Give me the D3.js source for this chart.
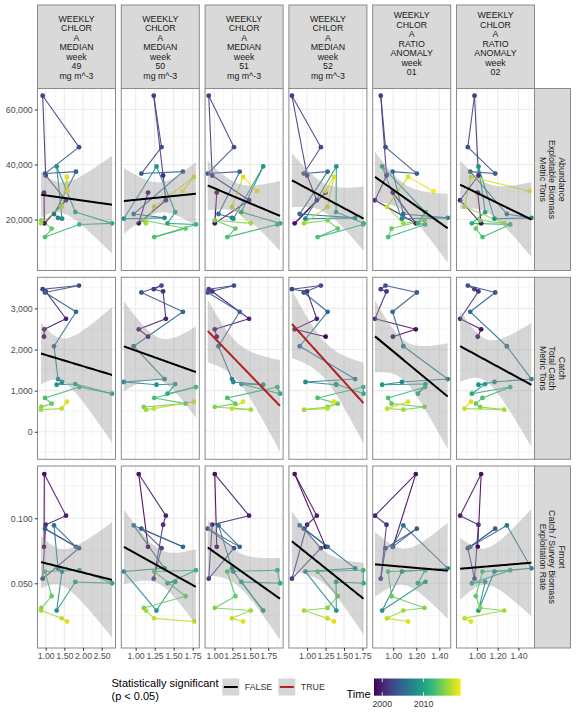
<!DOCTYPE html>
<html><head><meta charset="utf-8">
<script src="https://cdn.jsdelivr.net/npm/d3@7"></script>
<style>body{margin:0;background:#fff} text{font-family:"Liberation Sans",Arial,sans-serif}</style>
</head><body><svg id="c" width="576" height="720"></svg>
<script>
// ---------------- data ----------------
const years = [1998,1999,2000,2001,2002,2003,2004,2005,2006,2007,2008,2009,2010,2011,2012,2013,2014,2015,2016,2017,2018,2019];
const abundance = [29800,18600,27000,36000,65000,46300,36700,37400,22000,20600,20300,39300,22700,18600,18200,13600,16700,19700,18600,24600,35500,30300];
const totalCatch = [2313,2492,2748,3413,3467,3556,3387,2918,2080,1282,1210,1143,1160,926,1088,822,684,603,538,563,732,null];
const fmort = [0.078,0.134,0.102,0.095,0.0535,0.077,0.092,0.078,0.0945,0.0615,0.059,0.029,0.051,0.050,0.060,0.059,0.040,0.031,0.029,0.023,0.0206,null];
const chl49 = [0.954,0.963,1.544,0.999,0.919,1.893,0.981,1.812,1.223,1.330,1.437,1.294,1.794,2.777,1.902,0.981,1.160,0.883,0.874,1.428,1.571,1.589];
const chl50 = [1.163,1.040,1.397,1.361,1.238,1.340,1.075,1.622,0.974,1.380,0.845,1.274,1.520,1.419,1.792,1.245,1.657,1.106,1.136,1.242,1.767,1.618];
const chl51 = [1.032,1.004,1.483,0.968,0.920,1.272,0.906,1.352,1.056,1.244,1.263,1.680,1.376,1.915,1.877,1.179,1.292,1.004,1.507,1.244,1.399,1.596];
const chl52 = [1.251,0.832,1.132,1.000,0.795,1.187,0.955,1.278,0.900,1.651,0.978,1.396,1.392,1.764,1.760,1.142,1.415,1.278,0.959,1.276,1.364,1.248];
const ratio01 = [0.997,1.196,0.842,0.942,0.892,0.933,1.205,0.995,1.088,1.473,1.076,0.904,1.280,1.214,1.277,0.956,0.986,1.271,1.088,0.947,1.129,1.350];
const ratio02 = [1.008,1.041,0.839,1.015,0.977,0.913,1.176,0.936,1.288,1.524,1.169,1.015,1.080,0.952,1.320,1.054,0.990,1.032,1.263,0.881,0.942,1.506];
const significant = [
  [false,false,false,false,false,false],
  [false,false,true,true,false,false],
  [false,false,false,false,false,false]];
const colLabels = [
  ["WEEKLY","CHLOR","A","MEDIAN","week","49","mg m^-3"],
  ["WEEKLY","CHLOR","A","MEDIAN","week","50","mg m^-3"],
  ["WEEKLY","CHLOR","A","MEDIAN","week","51","mg m^-3"],
  ["WEEKLY","CHLOR","A","MEDIAN","week","52","mg m^-3"],
  ["WEEKLY","CHLOR","A","RATIO","ANOMALY","week","01"],
  ["WEEKLY","CHLOR","A","RATIO","ANOMALY","week","02"]];
const rowLabels = [
  ["Abundance","Exploitable Biomass","Metric Tons"],
  ["Catch","Total Catch","Metric Tons"],
  ["Fmort","Catch / Survey Biomass","Exploitation Rate"]];
const xTicks = [[1,1.5,2,2.5],[1,1.25,1.5,1.75],[1,1.25,1.5,1.75],[1,1.25,1.5,1.75],[1,1.2,1.4],[1,1.2,1.4]];
const yTicks = [[20000,40000,60000],[0,1000,2000,3000],[0.05,0.1]];
const legendLabels = ["FALSE","TRUE"];
const timeTicks = [2000,2010];

// ---------------- layout / scales settings ----------------
const xVars = [chl49,chl50,chl51,chl52,ratio01,ratio02];
const yVars = [abundance,totalCatch,fmort];
const xDom = [[0.78,2.871],[0.811,1.837],[0.869,1.958],[0.754,1.810],[0.822,1.499],[0.804,1.554]];
const yDom = [[1455,67636],[-670,3757],[0.0002,0.1402]];
const yFmt = [d3.format(","),d3.format(","),d3.format(".3f")];
const PL = 37.5, PSTEP = 83.8, PW = 78;
const PT = [88.5,277.3,466], PH = 182;
const STRIP_TOP = 5;

const svg = d3.select("#c");
const color = d3.scaleSequential(d3.interpolateViridis).domain([1998,2019]);
const tq = {18:2.100922,19:2.093024,20:2.085963};

function minorBreaks(ticks, dom){
  const step = ticks[1]-ticks[0];
  const out=[];
  for(let v=ticks[0]-step/2; v<=ticks[ticks.length-1]+step/2+1e-9; v+=step){
    if(v>=Math.min(...dom) && v<=Math.max(...dom)) out.push(v);
  }
  return out;
}
function fit(xs, ys){
  const n=xs.length, mx=d3.mean(xs), my=d3.mean(ys);
  let sxx=0,sxy=0; for(let i=0;i<n;i++){sxx+=(xs[i]-mx)**2; sxy+=(xs[i]-mx)*(ys[i]-my);}
  const b=sxy/sxx, a=my-b*mx;
  let sse=0; for(let i=0;i<n;i++){sse+=(ys[i]-a-b*xs[i])**2;}
  const s=Math.sqrt(sse/(n-2));
  return {a,b,s,n,mx,sxx,t:tq[n-2]||2.09};
}

for(let r=0;r<3;r++){
  for(let c=0;c<6;c++){
    const left = PL + c*PSTEP, top = PT[r];
    const g = svg.append("g").attr("transform",`translate(${left},${top})`);
    const x = d3.scaleLinear().domain(xDom[c]).range([0,PW]);
    const y = d3.scaleLinear().domain(yDom[r]).range([PH,0]);
    g.append("rect").attr("width",PW).attr("height",PH).attr("fill","#fff");
    minorBreaks(xTicks[c],xDom[c]).forEach(v=>g.append("line").attr("x1",x(v)).attr("x2",x(v)).attr("y1",0).attr("y2",PH).attr("stroke","#f2f2f2").attr("stroke-width",0.8));
    minorBreaks(yTicks[r],yDom[r]).forEach(v=>g.append("line").attr("y1",y(v)).attr("y2",y(v)).attr("x1",0).attr("x2",PW).attr("stroke","#f2f2f2").attr("stroke-width",0.8));
    xTicks[c].forEach(v=>g.append("line").attr("x1",x(v)).attr("x2",x(v)).attr("y1",0).attr("y2",PH).attr("stroke","#ebebeb").attr("stroke-width",1.1));
    yTicks[r].forEach(v=>g.append("line").attr("y1",y(v)).attr("y2",y(v)).attr("x1",0).attr("x2",PW).attr("stroke","#ebebeb").attr("stroke-width",1.1));
    const cid = `clip${r}${c}`;
    g.append("clipPath").attr("id",cid).append("rect").attr("width",PW).attr("height",PH);
    const pg = g.append("g").attr("clip-path",`url(#${cid})`);
    const xs=xVars[c], ys=yVars[r];
    const pts = years.map((yr,i)=>({yr, x:xs[i], y:ys[i]})).filter(d=>d.y!==null && d.x!==null);
    for(let i=0;i<pts.length-1;i++){
      pg.append("line").attr("x1",x(pts[i].x)).attr("y1",y(pts[i].y)).attr("x2",x(pts[i+1].x)).attr("y2",y(pts[i+1].y))
        .attr("stroke",color(pts[i].yr)).attr("stroke-width",1.1).attr("stroke-opacity",0.9);
    }
    pg.selectAll("circle.pt").data(pts).join("circle").attr("cx",d=>x(d.x)).attr("cy",d=>y(d.y)).attr("r",2.4).attr("fill",d=>color(d.yr));
    const f = fit(pts.map(d=>d.x), pts.map(d=>d.y));
    const [x0,x1] = d3.extent(pts,d=>d.x);
    const grid = d3.range(0,81).map(k=>x0+(x1-x0)*k/80);
    const band = grid.map(v=>{const yh=f.a+f.b*v; const se=f.s*Math.sqrt(1/f.n+(v-f.mx)**2/f.sxx); return {v,yh,lo:yh-f.t*se,hi:yh+f.t*se};});
    pg.append("path").datum(band).attr("d",d3.area().x(d=>x(d.v)).y0(d=>y(d.lo)).y1(d=>y(d.hi))).attr("fill","#999999").attr("fill-opacity",0.4);
    pg.append("path").datum(band).attr("d",d3.line().x(d=>x(d.v)).y(d=>y(d.yh))).attr("fill","none")
      .attr("stroke",significant[r][c]?"#B22222":"#000").attr("stroke-width",2);
    g.append("rect").attr("width",PW).attr("height",PH).attr("fill","none").attr("stroke","#8a8a8a").attr("stroke-width",1);
    if(c===0){
      const ax = svg.append("g").attr("transform",`translate(${left},${top})`)
        .call(d3.axisLeft(y).tickValues(yTicks[r]).tickFormat(yFmt[r]).tickSize(2.75).tickPadding(2));
      ax.select(".domain").remove();
      ax.selectAll("line").attr("stroke","#333");
      ax.selectAll("text").attr("fill","#4d4d4d").style("font-size","8.8px").style("font-family","Liberation Sans, Arial, sans-serif");
    }
    if(r===2){
      const ax = svg.append("g").attr("transform",`translate(${left},${top+PH})`)
        .call(d3.axisBottom(x).tickValues(xTicks[c]).tickFormat(d3.format(".2f")).tickSize(2.75).tickPadding(2));
      ax.select(".domain").remove();
      ax.selectAll("line").attr("stroke","#333");
      ax.selectAll("text").attr("fill","#4d4d4d").style("font-size","8.8px").style("font-family","Liberation Sans, Arial, sans-serif");
    }
  }
}
colLabels.forEach((lines,c)=>{
  const left = PL + c*PSTEP;
  svg.append("rect").attr("x",left).attr("y",STRIP_TOP).attr("width",PW).attr("height",PT[0]-STRIP_TOP)
    .attr("fill","#d9d9d9").attr("stroke","#8a8a8a").attr("stroke-width",1);
  const y0 = c<4 ? 18.5 : 15.2;
  lines.forEach((t,i)=>svg.append("text").attr("x",left+PW/2).attr("y",y0+i*9.5).attr("dy","0.35em")
    .attr("text-anchor","middle").attr("fill","#1a1a1a").style("font-size","8.8px").text(t));
});
rowLabels.forEach((lines,r)=>{
  const sx = PL + 5*PSTEP + PW;
  svg.append("rect").attr("x",sx).attr("y",PT[r]).attr("width",36).attr("height",PH)
    .attr("fill","#d9d9d9").attr("stroke","#8a8a8a").attr("stroke-width",1);
  const cx = sx+18, cy = PT[r]+PH/2;
  lines.forEach((t,i)=>{
    const off = (i-1)*9.4;
    svg.append("text").attr("transform",`translate(${cx-off},${cy}) rotate(90)`).attr("dy","0.35em")
      .attr("text-anchor","middle").attr("fill","#1a1a1a").style("font-size","8.8px").text(t);
  });
});
svg.append("text").attr("x",111.5).attr("y",687.3).attr("fill","#000").style("font-size","11px").text("Statistically significant");
svg.append("text").attr("x",111.5).attr("y",699.6).attr("fill","#000").style("font-size","11px").text("(p < 0.05)");
legendLabels.forEach((lab,i)=>{
  const kx = 222.3 + i*56, ky = 678.5;
  svg.append("rect").attr("x",kx).attr("y",ky).attr("width",17).attr("height",17).attr("fill","#999").attr("fill-opacity",0.4);
  svg.append("line").attr("x1",kx+1.5).attr("x2",kx+15.5).attr("y1",ky+8.5).attr("y2",ky+8.5).attr("stroke",i?"#B22222":"#000").attr("stroke-width",2);
  svg.append("text").attr("x",kx+22.5).attr("y",ky+8.5).attr("dy","0.35em").attr("fill","#333").style("font-size","8.8px").text(lab);
});
svg.append("text").attr("x",346.5).attr("y",698).attr("fill","#000").style("font-size","11px").text("Time");
const cb = d3.scaleLinear().domain([1998,2019]).range([374,460.7]);
const defs = svg.append("defs");
const lg = defs.append("linearGradient").attr("id","vir").attr("x1","0%").attr("x2","100%");
d3.range(0,11).forEach(k=>lg.append("stop").attr("offset",`${k*10}%`).attr("stop-color",d3.interpolateViridis(k/10)));
svg.append("rect").attr("x",374).attr("y",678.5).attr("width",86.7).attr("height",17.2).attr("fill","url(#vir)");
timeTicks.forEach(t=>{
  svg.append("line").attr("x1",cb(t)).attr("x2",cb(t)).attr("y1",678.5).attr("y2",682).attr("stroke","#fff").attr("stroke-width",0.8);
  svg.append("line").attr("x1",cb(t)).attr("x2",cb(t)).attr("y1",692.2).attr("y2",695.7).attr("stroke","#fff").attr("stroke-width",0.8);
  svg.append("text").attr("x",cb(t)).attr("y",704).attr("dy","0.35em").attr("text-anchor","middle").attr("fill","#333").style("font-size","8.8px").text(t);
});
</script></body></html>
